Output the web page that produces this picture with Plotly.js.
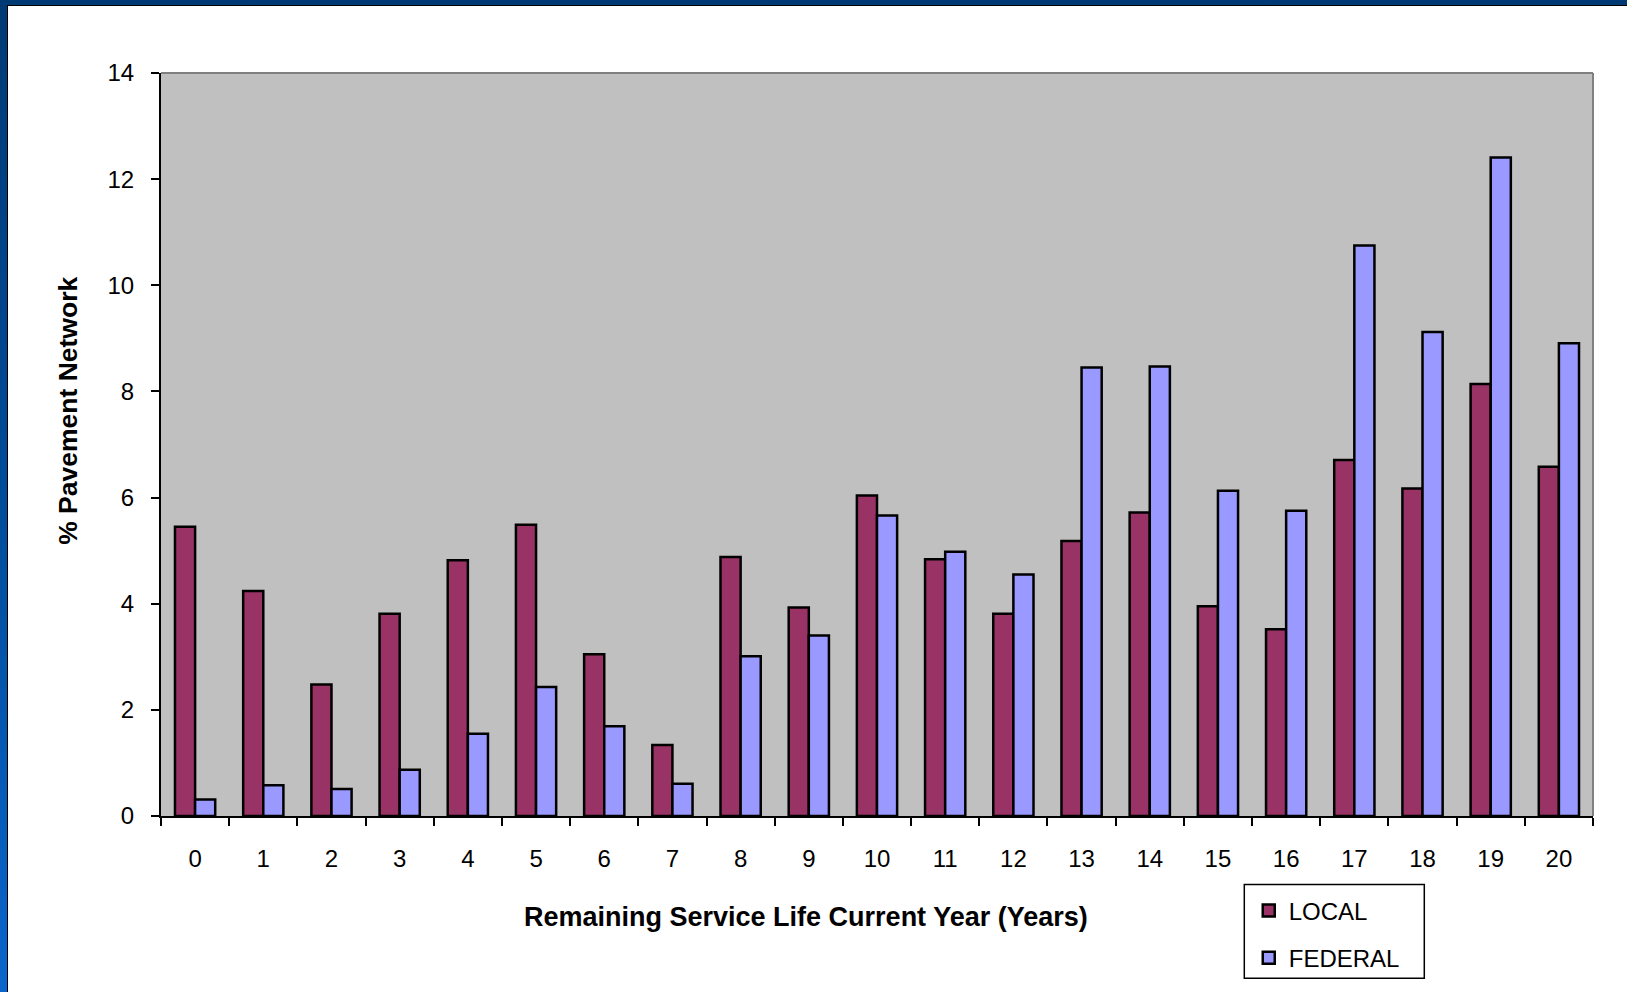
<!DOCTYPE html>
<html>
<head>
<meta charset="utf-8">
<script src="https://cdn.plot.ly/plotly-3.0.1.min.js"></script>
<style>
  html, body { margin: 0; padding: 0; width: 1627px; height: 992px; overflow: hidden;
    background: linear-gradient(to bottom, #003a75 0%, #004c9a 50%, #0a66cc 100%); }
  #chart { position: absolute; left: 7px; top: 5px; width: 1619px; height: 986px;
    background: #ffffff; border-left: 1px solid #000; border-top: 1px solid #000; }
</style>
</head>
<body>
<div id="chart"></div>
<script>
// Remaining service life, in years
const years = [0, 1, 2, 3, 4, 5, 6, 7, 8, 9, 10, 11, 12, 13, 14, 15, 16, 17, 18, 19, 20];

// Share of the pavement network (%) by road class
const localShare = [5.45, 4.24, 2.48, 3.81, 4.82, 5.49, 3.05, 1.34, 4.88, 3.93, 6.04,
                    4.84, 3.81, 5.18, 5.72, 3.95, 3.52, 6.71, 6.17, 8.14, 6.58];
const federalShare = [0.31, 0.58, 0.51, 0.87, 1.55, 2.43, 1.69, 0.61, 3.01, 3.40, 5.66,
                      4.98, 4.55, 8.45, 8.47, 6.13, 5.75, 10.75, 9.12, 12.41, 8.91];

const seriesNames = ['LOCAL', 'FEDERAL'];
const xTitle = 'Remaining Service Life Current Year (Years)';
const yTitle = '% Pavement Network';

const FONT = 'Liberation Sans, Arial, sans-serif';

const traces = [
  {
    type: 'bar', name: seriesNames[0], x: years, y: localShare,
    legendgroup: 'a',
    marker: { color: '#993366', line: { color: '#000000', width: 2.5 } },
    hoverinfo: 'x+y+name'
  },
  {
    type: 'bar', name: seriesNames[1], x: years, y: federalShare,
    legendgroup: 'b',
    marker: { color: '#9999ff', line: { color: '#000000', width: 2.5 } },
    hoverinfo: 'x+y+name'
  }
];

const layout = {
  width: 1619, height: 986,
  margin: { l: 152.7, r: 34.3, t: 67, b: 173.7, pad: 0 },
  paper_bgcolor: '#ffffff',
  plot_bgcolor: '#c0c0c0',
  barmode: 'group',
  bargap: 0.41,
  bargroupgap: 0,
  font: { family: FONT, size: 24, color: '#000000' },
  showlegend: true,
  legend: {
    x: 0.7596, y: -0.0975, xanchor: 'left', yanchor: 'top',
    bgcolor: 'rgba(0,0,0,0)', borderwidth: 0,
    font: { family: FONT, size: 24, color: '#000000' },
    traceorder: 'grouped', tracegroupgap: 13
  },
  xaxis: {
    type: 'linear', range: [-0.5, 20.5], fixedrange: true,
    tickmode: 'linear', tick0: 0, dtick: 1,
    ticks: '', showgrid: false, zeroline: false,
    showline: true, linecolor: '#000000', linewidth: 2,
    tickfont: { family: FONT, size: 24, color: '#000000' },
    ticklabelstandoff: 20,
    minor: { tickmode: 'linear', tick0: 0.5, dtick: 1, ticks: 'outside',
             ticklen: 8, tickwidth: 2, tickcolor: '#000000', showgrid: false }
  },
  xaxis2: {
    type: 'linear', overlaying: 'x', matches: 'x', anchor: 'y',
    range: [-0.5, 20.5], side: 'bottom',
    tickmode: 'linear', tick0: 0.5, dtick: 1,
    ticks: 'inside', ticklen: 8, tickwidth: 2, tickcolor: '#000000',
    showticklabels: false, showgrid: false, zeroline: false, showline: false
  },
  yaxis: {
    range: [0, 14], fixedrange: true,
    tickmode: 'linear', tick0: 0, dtick: 2,
    ticks: 'outside', ticklen: 8, tickwidth: 2, tickcolor: '#000000',
    showgrid: false, zeroline: false,
    showline: true, linecolor: '#000000', linewidth: 2,
    tickfont: { family: FONT, size: 24, color: '#000000' },
    ticklabelstandoff: 12
  },
  yaxis2: {
    overlaying: 'y', matches: 'y', anchor: 'x', side: 'left',
    range: [0, 14], tickmode: 'linear', tick0: 0, dtick: 2,
    ticks: 'inside', ticklen: 8, tickwidth: 2, tickcolor: '#000000',
    showticklabels: false, showgrid: false, zeroline: false, showline: false
  },
  shapes: [
    // top and right edges of the plot frame
    { type: 'line', xref: 'paper', yref: 'paper', x0: 0, x1: 1, y0: 1, y1: 1,
      line: { color: '#808080', width: 2 } },
    { type: 'line', xref: 'paper', yref: 'paper', x0: 1, x1: 1, y0: 0, y1: 1,
      line: { color: '#808080', width: 2 } },
    // legend box
    { type: 'rect', xref: 'paper', yref: 'paper',
      x0: 0.75649, x1: 0.88219, y0: -0.09218, y1: -0.2183,
      line: { color: '#000000', width: 1.5 }, fillcolor: 'rgba(0,0,0,0)' }
  ],
  annotations: [
    { text: '<b>' + xTitle + '</b>', xref: 'paper', yref: 'paper',
      x: 0.4505, y: -0.1365, xanchor: 'center', yanchor: 'middle', showarrow: false,
      font: { family: FONT, size: 27, color: '#000000' } },
    { text: '<b>' + yTitle + '</b>', xref: 'paper', yref: 'paper',
      x: -0.0647, y: 0.5458, xanchor: 'center', yanchor: 'middle', showarrow: false,
      textangle: -90,
      font: { family: FONT, size: 26.5, color: '#000000' } }
  ]
};

Plotly.newPlot('chart', traces, layout, { staticPlot: true, displayModeBar: false });
</script>
</body>
</html>
